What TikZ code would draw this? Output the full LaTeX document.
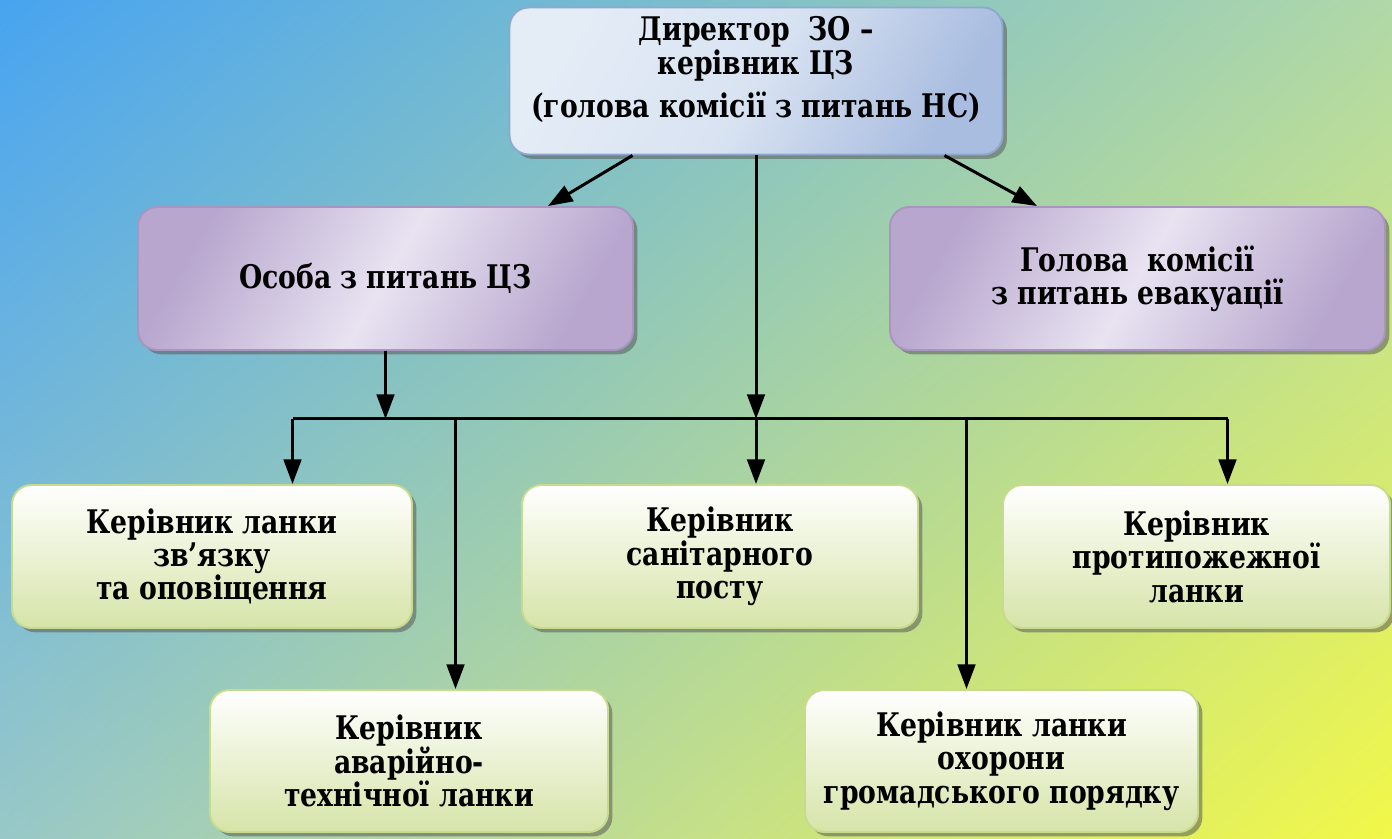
\documentclass[tikz,border=0pt]{standalone}
\usepackage{fontspec}
\setmainfont{DejaVu Serif}
\newfontfamily\boxfont{DejaVu Serif}[FakeStretch=0.82]
\usetikzlibrary{positioning, arrows.meta, shadows, shadings}

\definecolor{bgTL}{HTML}{48A4F0}
\definecolor{bgTR}{HTML}{B0D8A8}
\definecolor{bgBL}{HTML}{98C8C8}
\definecolor{bgBR}{HTML}{F2F848}
\definecolor{dirD}{HTML}{A9BDE0}
\definecolor{dirL}{HTML}{E4ECF6}
\definecolor{dirB}{HTML}{8FA8D0}
\definecolor{lavD}{HTML}{B8A6CE}
\definecolor{lavL}{HTML}{E8E3F1}
\definecolor{lavB}{HTML}{A896C0}
\definecolor{grnD}{HTML}{D6E4A8}
\definecolor{grnB}{HTML}{C6DC8C}

\begin{document}
\begin{tikzpicture}[on grid, node distance=2cm,
    box/.style={rounded corners=11pt, line width=1.1pt, align=center,
        font=\boxfont\bfseries\fontsize{18.5}{19}\selectfont,
        drop shadow={shadow xshift=2.5pt, shadow yshift=-2.5pt, opacity=.55, fill=black!65}},
    dirbox/.style={box, draw=dirB, shading=axis, left color=dirL, right color=dirD,
        middle color=dirL!80!dirD, shading angle=60,
        font=\boxfont\bfseries\fontsize{18.5}{16}\selectfont,
        minimum width=9.86cm, minimum height=2.94cm},
    lavbox/.style={box, draw=lavB, shading=axis, left color=lavD, right color=lavD,
        middle color=lavL, shading angle=60,
        minimum width=9.9cm, minimum height=2.86cm},
    grnbox/.style={box, draw=grnB, top color=white, bottom color=grnD,
        minimum width=7.9cm, minimum height=2.86cm},
    arr/.style={line width=1.7pt, -{Triangle[length=14pt, width=10pt]}}]

    \shade[upper left=bgTL, upper right=bgTR, lower left=bgBL, lower right=bgBR]
        (0,0) rectangle (27.84,-16.78);
    \useasboundingbox (0,0) rectangle (27.84,-16.78);

    \node[dirbox] (dir) at (15.12,-1.62)
        {Директор\ \ ЗО –\\керівник ЦЗ\\[5pt](голова комісії з питань НС)\\\mbox{}};
    \node[lavbox] (osoba) [below left = 3.95 and 7.41 of dir] {Особа з питань ЦЗ};
    \node[lavbox] (holova) [below right = 3.95 and 7.63 of dir]
        {Голова\ \ комісії\\з питань евакуації};
    \node[grnbox, minimum width=8cm] (zv) [below left = 9.51 and 10.88 of dir]
        {Керівник ланки\\зв’язку\\та оповіщення};
    \node[grnbox, minimum width=7.92cm] (san) [below left = 9.51 and 0.72 of dir]
        {Керівник\\санітарного\\посту};
    \node[grnbox, minimum width=7.74cm] (prot) [below right = 9.51 and 8.81 of dir]
        {Керівник\\протипожежної\\ланки};
    \node[grnbox, minimum width=7.96cm, minimum height=2.84cm] (avar)
        [below left = 13.6 and 6.94 of dir] {Керівник\\аварійно-\\технічної ланки};
    \node[grnbox, minimum width=7.86cm, minimum height=2.84cm] (okh)
        [below right = 13.6 and 4.91 of dir] {Керівник ланки\\охорони\\громадського порядку};

    % hub of the distribution line
    \coordinate[below=5.27 of dir.south] (hub);
    \coordinate[left=9.27 of hub] (barL);
    \coordinate[right=9.43 of hub] (barR);
    \coordinate[left=6.01 of hub] (jAvar);
    \coordinate[right=4.21 of hub] (jOkh);

    \path[arr]
        ([xshift=-2.47cm]dir.south) edge ([xshift=3.25cm]osoba.north)
        ([xshift=3.77cm]dir.south)  edge ([xshift=-2.01cm]holova.north)
        (dir.south)                 edge (hub)
        (osoba.south)               edge (osoba.south |- hub);
    \draw[line width=1.7pt] (barL) -- (barR);
    \path[arr]
        (barL)  edge (barL |- zv.north)
        (jAvar) edge (jAvar |- avar.north)
        (hub)   edge (hub |- san.north)
        (jOkh)  edge (jOkh |- okh.north)
        (barR)  edge (barR |- prot.north);
\end{tikzpicture}
\end{document}
